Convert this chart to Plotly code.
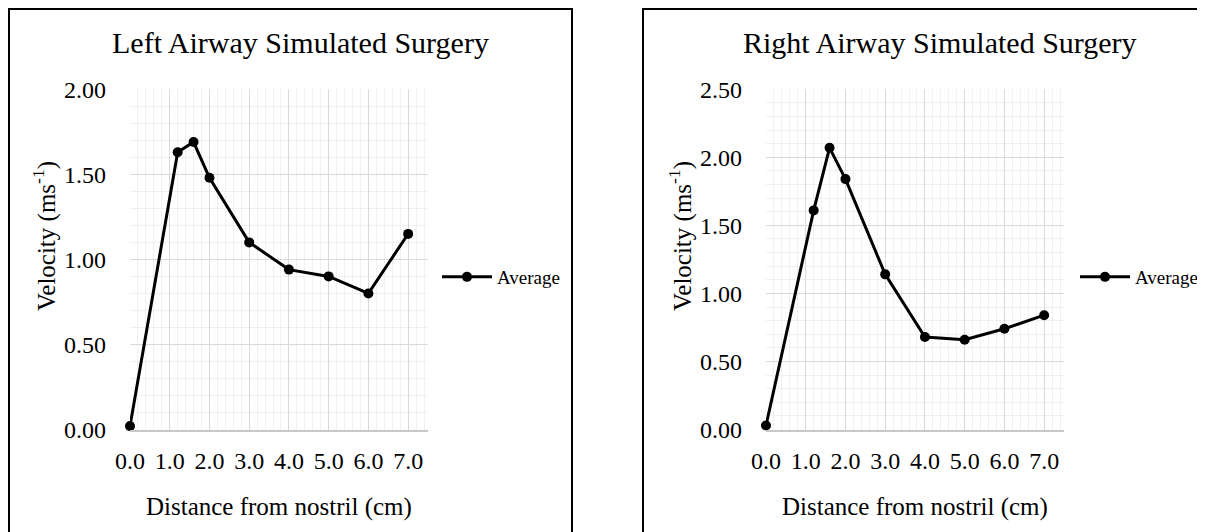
import plotly.graph_objects as go

# distance from nostril (cm)
distance = [0.0, 1.2, 1.6, 2.0, 3.0, 4.0, 5.0, 6.0, 7.0]
# average velocity (m/s)
left_velocity = [0.02, 1.63, 1.69, 1.48, 1.10, 0.94, 0.90, 0.80, 1.15]
right_velocity = [0.03, 1.61, 2.07, 1.84, 1.14, 0.68, 0.66, 0.74, 0.84]

titles = ["Left Airway Simulated Surgery", "Right Airway Simulated Surgery"]
x_title = "Distance from nostril (cm)"
y_title = "Velocity (ms<sup>-1</sup>)"
series_name = "Average"

W, H = 1205, 532
PAGE_PAD = 8  # body margin of the html page
FONT = "Liberation Serif"


def px(x):
    return (x - PAGE_PAD) / W


def py(y):
    return 1 - (y - PAGE_PAD) / H


fig = go.Figure()
fig.add_trace(go.Scatter(
    x=distance, y=left_velocity, name=series_name, mode="lines+markers",
    line=dict(color="black", width=3), marker=dict(size=10, color="black"),
    cliponaxis=False, showlegend=True, xaxis="x", yaxis="y", legend="legend"))
fig.add_trace(go.Scatter(
    x=distance, y=right_velocity, name=series_name, mode="lines+markers",
    line=dict(color="black", width=3), marker=dict(size=10, color="black"),
    cliponaxis=False, showlegend=True, xaxis="x2", yaxis="y2", legend="legend2"))

grid = dict(showgrid=True, gridcolor="#d9d9d9", gridwidth=1, automargin=False,
            zeroline=False, ticks="", fixedrange=True,
            tickfont=dict(family=FONT, size=24, color="black"))

xax = dict(grid, range=[0, 7.5], dtick=1, tick0=0, tickformat=".1f",
           minor=dict(dtick=0.2, tick0=0, showgrid=True, gridcolor="#f0f0f0"),
           showline=True, linecolor="#c8c8c8", linewidth=1.5,
           ticklabelstandoff=9)
yax = dict(grid, dtick=0.5, tick0=0, tickformat=".2f",
           minor=dict(dtick=0.1, tick0=0, showgrid=True, gridcolor="#f0f0f0"),
           showline=False, ticklabelstandoff=23)

plot_top, plot_bottom = 89.3, 429.5
left_x0, right_x0 = 130, 766
plot_w = 298
shift = right_x0 - left_x0

legend_style = dict(xanchor="left", yanchor="middle", font=dict(family=FONT, size=19),
                    itemwidth=50, bgcolor="rgba(0,0,0,0)", visible=True)

fig.update_layout(
    width=W, height=H,
    margin=dict(l=0, r=0, t=0, b=0, autoexpand=False),
    paper_bgcolor="white", plot_bgcolor="white",
    font=dict(family=FONT, color="black"),
    showlegend=True,
    xaxis=dict(xax, domain=[px(left_x0), px(left_x0 + plot_w)], anchor="y"),
    yaxis=dict(yax, domain=[py(plot_bottom), py(plot_top)], range=[0, 2.0], anchor="x"),
    xaxis2=dict(xax, domain=[px(right_x0), px(right_x0 + plot_w)], anchor="y2"),
    yaxis2=dict(yax, domain=[py(plot_bottom), py(plot_top)], range=[0, 2.5], anchor="x2"),
    legend=dict(legend_style, x=px(437), y=py(277)),
    legend2=dict(legend_style, x=px(437 + shift + 2), y=py(277)),
)

# chart area borders (kept just inside the page edge)
edge = PAGE_PAD + 1
fig.add_shape(type="rect", xref="paper", yref="paper",
              x0=px(edge), x1=px(572), y0=py(edge), y1=py(H + 20),
              line=dict(color="black", width=2), fillcolor="rgba(0,0,0,0)")
fig.add_shape(type="rect", xref="paper", yref="paper",
              x0=px(7 + shift), x1=px(W + 20), y0=py(edge), y1=py(H + 20),
              line=dict(color="black", width=2), fillcolor="rgba(0,0,0,0)")

for i, off in enumerate([0, shift]):
    fig.add_annotation(text=titles[i], xref="paper", yref="paper",
                       x=px(300 + off + 4 * i), y=py(43), xanchor="center", yanchor="middle",
                       showarrow=False, font=dict(family=FONT, size=30, color="black"))
    fig.add_annotation(text=x_title, xref="paper", yref="paper",
                       x=px(279 + off), y=py(507), xanchor="center", yanchor="middle",
                       showarrow=False, font=dict(family=FONT, size=25, color="black"))
    fig.add_annotation(text=y_title, xref="paper", yref="paper", textangle=-90,
                       x=px(44 + off), y=py(236), xanchor="center", yanchor="middle",
                       showarrow=False, font=dict(family=FONT, size=25, color="black"))

fig.write_html("out.html")
